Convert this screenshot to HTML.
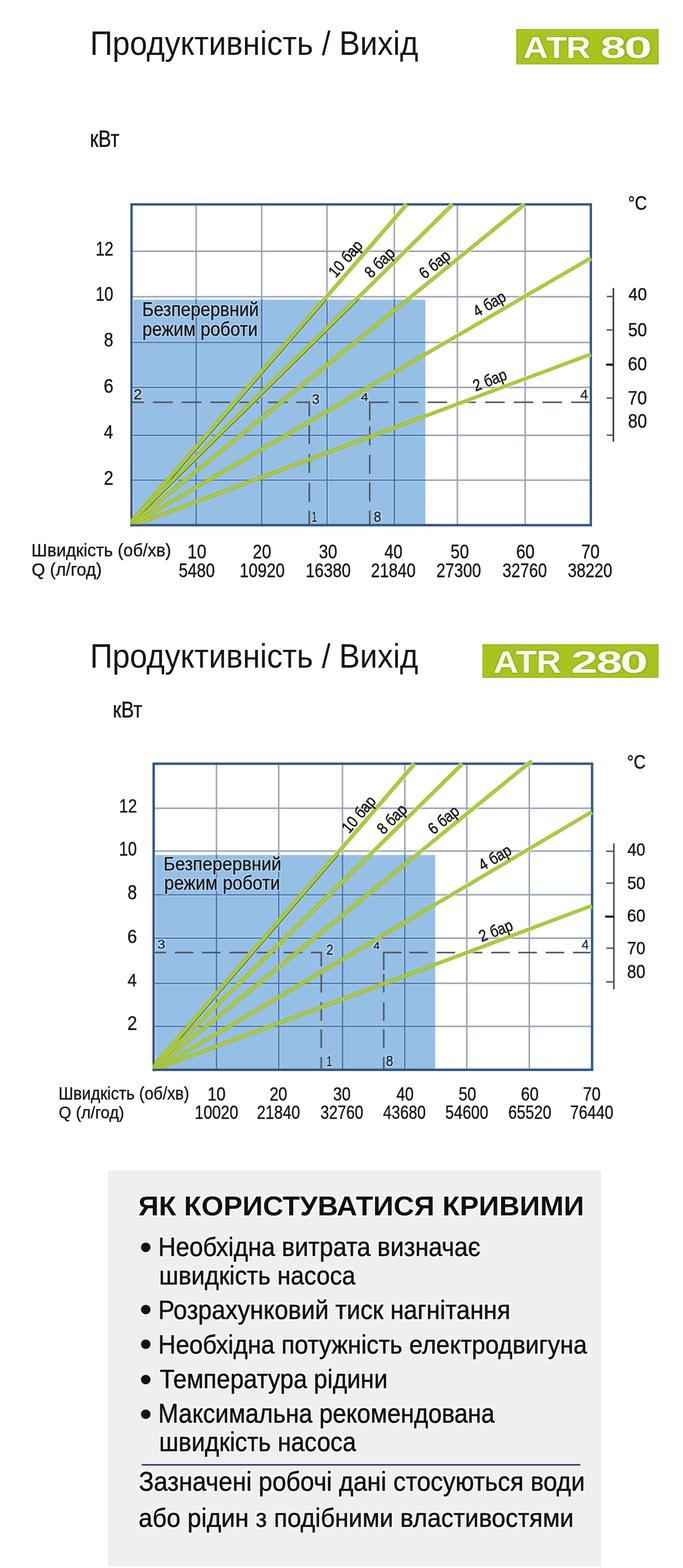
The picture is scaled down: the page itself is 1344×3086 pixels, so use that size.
<!DOCTYPE html>
<html lang="uk"><head><meta charset="utf-8"><title>Продуктивність / Вихід — ATR 80, ATR 280</title>
<style>html,body{margin:0;padding:0;background:#fff;overflow:hidden;}svg{display:block;}text{font-family:"Liberation Sans", Arial, Helvetica, sans-serif;}</style>
</head><body>
<svg width="1344" height="3086" viewBox="0 0 1344 3086">
<defs><filter id="h8aa31a3_2" x="-20%" y="-40%" width="140%" height="180%" color-interpolation-filters="sRGB"><feMorphology in="SourceAlpha" operator="dilate" radius="1.60" result="d"/><feGaussianBlur in="d" stdDeviation="0.6" result="b"/><feFlood flood-color="#8aa31a" flood-opacity="0.55"/><feComposite in2="b" operator="in" result="h"/><feMerge><feMergeNode in="h"/><feMergeNode in="SourceGraphic"/></feMerge></filter><filter id="hb6d6f24_5" x="-20%" y="-40%" width="140%" height="180%" color-interpolation-filters="sRGB"><feMorphology in="SourceAlpha" operator="dilate" radius="2.25" result="d"/><feGaussianBlur in="d" stdDeviation="0.6" result="b"/><feFlood flood-color="#b6d6f2" flood-opacity="0.9"/><feComposite in2="b" operator="in" result="h"/><feMerge><feMergeNode in="h"/><feMergeNode in="SourceGraphic"/></feMerge></filter><filter id="hc4e0f64" x="-20%" y="-40%" width="140%" height="180%" color-interpolation-filters="sRGB"><feMorphology in="SourceAlpha" operator="dilate" radius="2.00" result="d"/><feGaussianBlur in="d" stdDeviation="0.6" result="b"/><feFlood flood-color="#c4e0f6" flood-opacity="0.8"/><feComposite in2="b" operator="in" result="h"/><feMerge><feMergeNode in="h"/><feMergeNode in="SourceGraphic"/></feMerge></filter><filter id="hfbfbfb5" x="-20%" y="-40%" width="140%" height="180%" color-interpolation-filters="sRGB"><feMorphology in="SourceAlpha" operator="dilate" radius="2.50" result="d"/><feGaussianBlur in="d" stdDeviation="0.6" result="b"/><feFlood flood-color="#fbfbfb" flood-opacity="0.85"/><feComposite in2="b" operator="in" result="h"/><feMerge><feMergeNode in="h"/><feMergeNode in="SourceGraphic"/></feMerge></filter></defs>
<rect x="0.00" y="0.00" width="1344.00" height="3086.00" fill="#ffffff"/>
<rect x="262.00" y="589.70" width="575.00" height="443.30" fill="#96bfe5"/>
<line x1="386.00" y1="400.00" x2="386.00" y2="1036.00" stroke="#99a4b5" stroke-width="2.9"/>
<line x1="386.00" y1="589.70" x2="386.00" y2="1036.00" stroke="#b3d3f0" stroke-width="6"/>
<line x1="386.00" y1="589.70" x2="386.00" y2="1036.00" stroke="#4e7cae" stroke-width="2.9"/>
<line x1="515.00" y1="400.00" x2="515.00" y2="1036.00" stroke="#99a4b5" stroke-width="2.9"/>
<line x1="515.00" y1="589.70" x2="515.00" y2="1036.00" stroke="#b3d3f0" stroke-width="6"/>
<line x1="515.00" y1="589.70" x2="515.00" y2="1036.00" stroke="#4e7cae" stroke-width="2.9"/>
<line x1="643.50" y1="400.00" x2="643.50" y2="1036.00" stroke="#99a4b5" stroke-width="2.9"/>
<line x1="643.50" y1="589.70" x2="643.50" y2="1036.00" stroke="#b3d3f0" stroke-width="6"/>
<line x1="643.50" y1="589.70" x2="643.50" y2="1036.00" stroke="#4e7cae" stroke-width="2.9"/>
<line x1="776.00" y1="400.00" x2="776.00" y2="1036.00" stroke="#99a4b5" stroke-width="2.9"/>
<line x1="776.00" y1="589.70" x2="776.00" y2="1036.00" stroke="#b3d3f0" stroke-width="6"/>
<line x1="776.00" y1="589.70" x2="776.00" y2="1036.00" stroke="#4e7cae" stroke-width="2.9"/>
<line x1="900.00" y1="400.00" x2="900.00" y2="1036.00" stroke="#99a4b5" stroke-width="2.9"/>
<line x1="1033.50" y1="400.00" x2="1033.50" y2="1036.00" stroke="#99a4b5" stroke-width="2.9"/>
<line x1="256.50" y1="494.50" x2="1165.00" y2="494.50" stroke="#99a4b5" stroke-width="2.9"/>
<line x1="256.50" y1="584.00" x2="1165.00" y2="584.00" stroke="#99a4b5" stroke-width="2.9"/>
<line x1="256.50" y1="674.00" x2="1165.00" y2="674.00" stroke="#99a4b5" stroke-width="2.9"/>
<line x1="262.00" y1="674.00" x2="837.00" y2="674.00" stroke="#b3d3f0" stroke-width="6"/>
<line x1="262.00" y1="674.00" x2="837.00" y2="674.00" stroke="#4e7cae" stroke-width="2.9"/>
<line x1="256.50" y1="762.50" x2="1165.00" y2="762.50" stroke="#99a4b5" stroke-width="2.9"/>
<line x1="262.00" y1="762.50" x2="837.00" y2="762.50" stroke="#b3d3f0" stroke-width="6"/>
<line x1="262.00" y1="762.50" x2="837.00" y2="762.50" stroke="#4e7cae" stroke-width="2.9"/>
<line x1="256.50" y1="856.70" x2="1165.00" y2="856.70" stroke="#99a4b5" stroke-width="2.9"/>
<line x1="262.00" y1="856.70" x2="837.00" y2="856.70" stroke="#b3d3f0" stroke-width="6"/>
<line x1="262.00" y1="856.70" x2="837.00" y2="856.70" stroke="#4e7cae" stroke-width="2.9"/>
<line x1="256.50" y1="945.00" x2="1165.00" y2="945.00" stroke="#99a4b5" stroke-width="2.9"/>
<line x1="262.00" y1="945.00" x2="837.00" y2="945.00" stroke="#b3d3f0" stroke-width="6"/>
<line x1="262.00" y1="945.00" x2="837.00" y2="945.00" stroke="#4e7cae" stroke-width="2.9"/>
<line x1="386.00" y1="589.70" x2="386.00" y2="1036.00" stroke="#4e7cae" stroke-width="2.9"/>
<line x1="515.00" y1="589.70" x2="515.00" y2="1036.00" stroke="#4e7cae" stroke-width="2.9"/>
<line x1="643.50" y1="589.70" x2="643.50" y2="1036.00" stroke="#4e7cae" stroke-width="2.9"/>
<line x1="776.00" y1="589.70" x2="776.00" y2="1036.00" stroke="#4e7cae" stroke-width="2.9"/>
<line x1="260.50" y1="791.70" x2="283.44" y2="791.70" stroke="#4d5560" stroke-width="3.0"/>
<line x1="300.90" y1="791.70" x2="339.90" y2="791.70" stroke="#4d5560" stroke-width="3.0"/>
<line x1="357.36" y1="791.70" x2="396.36" y2="791.70" stroke="#4d5560" stroke-width="3.0"/>
<line x1="413.82" y1="791.70" x2="452.82" y2="791.70" stroke="#4d5560" stroke-width="3.0"/>
<line x1="470.28" y1="791.70" x2="509.28" y2="791.70" stroke="#4d5560" stroke-width="3.0"/>
<line x1="526.74" y1="791.70" x2="565.74" y2="791.70" stroke="#4d5560" stroke-width="3.0"/>
<line x1="583.20" y1="791.70" x2="609.50" y2="791.70" stroke="#4d5560" stroke-width="3.0"/>
<line x1="608.60" y1="790.20" x2="608.60" y2="819.70" stroke="#4d5560" stroke-width="3.0"/>
<line x1="608.60" y1="836.50" x2="608.60" y2="874.00" stroke="#4d5560" stroke-width="3.0"/>
<line x1="608.60" y1="893.50" x2="608.60" y2="931.00" stroke="#4d5560" stroke-width="3.0"/>
<line x1="608.60" y1="950.40" x2="608.60" y2="987.90" stroke="#4d5560" stroke-width="3.0"/>
<line x1="608.60" y1="1005.00" x2="608.60" y2="1032.50" stroke="#4d5560" stroke-width="3.0"/>
<line x1="727.60" y1="790.20" x2="727.60" y2="827.70" stroke="#4d5560" stroke-width="3.0"/>
<line x1="727.60" y1="839.00" x2="727.60" y2="876.50" stroke="#4d5560" stroke-width="3.0"/>
<line x1="727.60" y1="895.00" x2="727.60" y2="932.50" stroke="#4d5560" stroke-width="3.0"/>
<line x1="727.60" y1="949.60" x2="727.60" y2="987.10" stroke="#4d5560" stroke-width="3.0"/>
<line x1="727.60" y1="1005.00" x2="727.60" y2="1032.50" stroke="#4d5560" stroke-width="3.0"/>
<line x1="726.10" y1="791.70" x2="764.60" y2="791.70" stroke="#4d5560" stroke-width="3.0"/>
<line x1="784.80" y1="791.70" x2="823.30" y2="791.70" stroke="#4d5560" stroke-width="3.0"/>
<line x1="841.37" y1="791.70" x2="879.87" y2="791.70" stroke="#4d5560" stroke-width="3.0"/>
<line x1="897.94" y1="791.70" x2="936.44" y2="791.70" stroke="#4d5560" stroke-width="3.0"/>
<line x1="954.51" y1="791.70" x2="993.01" y2="791.70" stroke="#4d5560" stroke-width="3.0"/>
<line x1="1011.08" y1="791.70" x2="1049.58" y2="791.70" stroke="#4d5560" stroke-width="3.0"/>
<line x1="1067.65" y1="791.70" x2="1106.15" y2="791.70" stroke="#4d5560" stroke-width="3.0"/>
<line x1="1124.22" y1="791.70" x2="1160.00" y2="791.70" stroke="#4d5560" stroke-width="3.0"/>
<rect x="258.80" y="402.30" width="903.90" height="631.40" fill="none" stroke="#355886" stroke-width="4.6"/>
<clipPath id="clip1"><rect x="256.8" y="399.2" width="909.2" height="637.0"/></clipPath>
<clipPath id="clipb1"><rect x="262" y="589.7" width="575" height="446.29999999999995"/></clipPath>
<mask id="maskw1"><rect x="0" y="0" width="1344" height="3086" fill="#fff"/><rect x="256.5" y="589.7" width="580.5" height="450.29999999999995" fill="#000"/></mask>
<g clip-path="url(#clip1)">
<g mask="url(#maskw1)">
<line x1="241.84" y1="1046.00" x2="800.68" y2="402.00" stroke="#eef7bf" stroke-width="10.6" opacity="0.75"/>
<line x1="237.55" y1="1046.00" x2="891.12" y2="402.00" stroke="#eef7bf" stroke-width="10.5" opacity="0.75"/>
<line x1="240.39" y1="1046.00" x2="1032.76" y2="402.00" stroke="#eef7bf" stroke-width="10.4" opacity="0.75"/>
<line x1="240.00" y1="1044.04" x2="1162.50" y2="507.94" stroke="#eef7bf" stroke-width="10.1" opacity="0.75"/>
<line x1="240.00" y1="1042.01" x2="1162.50" y2="697.15" stroke="#eef7bf" stroke-width="10.0" opacity="0.75"/>
</g>
<g clip-path="url(#clipb1)" opacity="0.45">
<line x1="241.84" y1="1046.00" x2="800.68" y2="402.00" stroke="#aecb45" stroke-width="10.5"/>
<line x1="237.55" y1="1046.00" x2="891.12" y2="402.00" stroke="#aecb45" stroke-width="10.4"/>
<line x1="240.39" y1="1046.00" x2="1032.76" y2="402.00" stroke="#aecb45" stroke-width="10.3"/>
<line x1="240.00" y1="1044.04" x2="1162.50" y2="507.94" stroke="#aecb45" stroke-width="10.0"/>
<line x1="240.00" y1="1042.01" x2="1162.50" y2="697.15" stroke="#aecb45" stroke-width="9.9"/>
</g>
<g clip-path="url(#clipb1)">
<line x1="246.14" y1="1049.74" x2="804.99" y2="405.74" stroke="#b3d3f0" stroke-width="1.8"/>
<line x1="244.93" y1="1048.69" x2="803.78" y2="404.69" stroke="#3f6b45" stroke-width="1.7"/>
<line x1="241.51" y1="1050.02" x2="895.08" y2="406.02" stroke="#b3d3f0" stroke-width="1.8"/>
<line x1="240.39" y1="1048.88" x2="893.96" y2="404.88" stroke="#3f6b45" stroke-width="1.7"/>
</g>
<line x1="241.84" y1="1046.00" x2="800.68" y2="402.00" stroke="#98b535" stroke-width="7.0"/>
<line x1="241.84" y1="1046.00" x2="800.68" y2="402.00" stroke="#aecb45" stroke-width="4.6"/>
<line x1="237.55" y1="1046.00" x2="891.12" y2="402.00" stroke="#98b535" stroke-width="6.9"/>
<line x1="237.55" y1="1046.00" x2="891.12" y2="402.00" stroke="#aecb45" stroke-width="4.5"/>
<line x1="240.39" y1="1046.00" x2="1032.76" y2="402.00" stroke="#98b535" stroke-width="6.8"/>
<line x1="240.39" y1="1046.00" x2="1032.76" y2="402.00" stroke="#aecb45" stroke-width="4.4"/>
<line x1="240.00" y1="1044.04" x2="1162.50" y2="507.94" stroke="#98b535" stroke-width="6.5"/>
<line x1="240.00" y1="1044.04" x2="1162.50" y2="507.94" stroke="#aecb45" stroke-width="4.1"/>
<line x1="240.00" y1="1042.01" x2="1162.50" y2="697.15" stroke="#98b535" stroke-width="6.4"/>
<line x1="240.00" y1="1042.01" x2="1162.50" y2="697.15" stroke="#aecb45" stroke-width="4.0"/>
</g>
<line x1="256.50" y1="1033.70" x2="1160.40" y2="1033.70" stroke="#355886" stroke-width="4.6"/>
<rect x="306.00" y="1682.70" width="550.50" height="421.30" fill="#96bfe5"/>
<line x1="426.00" y1="1500.70" x2="426.00" y2="2108.00" stroke="#99a4b5" stroke-width="2.9"/>
<line x1="426.00" y1="1682.70" x2="426.00" y2="2108.00" stroke="#b3d3f0" stroke-width="6"/>
<line x1="426.00" y1="1682.70" x2="426.00" y2="2108.00" stroke="#4e7cae" stroke-width="2.9"/>
<line x1="548.50" y1="1500.70" x2="548.50" y2="2108.00" stroke="#99a4b5" stroke-width="2.9"/>
<line x1="548.50" y1="1682.70" x2="548.50" y2="2108.00" stroke="#b3d3f0" stroke-width="6"/>
<line x1="548.50" y1="1682.70" x2="548.50" y2="2108.00" stroke="#4e7cae" stroke-width="2.9"/>
<line x1="674.00" y1="1500.70" x2="674.00" y2="2108.00" stroke="#99a4b5" stroke-width="2.9"/>
<line x1="674.00" y1="1682.70" x2="674.00" y2="2108.00" stroke="#b3d3f0" stroke-width="6"/>
<line x1="674.00" y1="1682.70" x2="674.00" y2="2108.00" stroke="#4e7cae" stroke-width="2.9"/>
<line x1="796.60" y1="1500.70" x2="796.60" y2="2108.00" stroke="#99a4b5" stroke-width="2.9"/>
<line x1="796.60" y1="1682.70" x2="796.60" y2="2108.00" stroke="#b3d3f0" stroke-width="6"/>
<line x1="796.60" y1="1682.70" x2="796.60" y2="2108.00" stroke="#4e7cae" stroke-width="2.9"/>
<line x1="918.50" y1="1500.70" x2="918.50" y2="2108.00" stroke="#99a4b5" stroke-width="2.9"/>
<line x1="1041.50" y1="1500.70" x2="1041.50" y2="2108.00" stroke="#99a4b5" stroke-width="2.9"/>
<line x1="300.00" y1="1590.70" x2="1167.50" y2="1590.70" stroke="#99a4b5" stroke-width="2.9"/>
<line x1="300.00" y1="1675.00" x2="1167.50" y2="1675.00" stroke="#99a4b5" stroke-width="2.9"/>
<line x1="300.00" y1="1761.00" x2="1167.50" y2="1761.00" stroke="#99a4b5" stroke-width="2.9"/>
<line x1="306.00" y1="1761.00" x2="856.50" y2="1761.00" stroke="#b3d3f0" stroke-width="6"/>
<line x1="306.00" y1="1761.00" x2="856.50" y2="1761.00" stroke="#4e7cae" stroke-width="2.9"/>
<line x1="300.00" y1="1846.50" x2="1167.50" y2="1846.50" stroke="#99a4b5" stroke-width="2.9"/>
<line x1="306.00" y1="1846.50" x2="856.50" y2="1846.50" stroke="#b3d3f0" stroke-width="6"/>
<line x1="306.00" y1="1846.50" x2="856.50" y2="1846.50" stroke="#4e7cae" stroke-width="2.9"/>
<line x1="300.00" y1="1935.20" x2="1167.50" y2="1935.20" stroke="#99a4b5" stroke-width="2.9"/>
<line x1="306.00" y1="1935.20" x2="856.50" y2="1935.20" stroke="#b3d3f0" stroke-width="6"/>
<line x1="306.00" y1="1935.20" x2="856.50" y2="1935.20" stroke="#4e7cae" stroke-width="2.9"/>
<line x1="300.00" y1="2020.00" x2="1167.50" y2="2020.00" stroke="#99a4b5" stroke-width="2.9"/>
<line x1="306.00" y1="2020.00" x2="856.50" y2="2020.00" stroke="#b3d3f0" stroke-width="6"/>
<line x1="306.00" y1="2020.00" x2="856.50" y2="2020.00" stroke="#4e7cae" stroke-width="2.9"/>
<line x1="426.00" y1="1682.70" x2="426.00" y2="2108.00" stroke="#4e7cae" stroke-width="2.9"/>
<line x1="548.50" y1="1682.70" x2="548.50" y2="2108.00" stroke="#4e7cae" stroke-width="2.9"/>
<line x1="674.00" y1="1682.70" x2="674.00" y2="2108.00" stroke="#4e7cae" stroke-width="2.9"/>
<line x1="796.60" y1="1682.70" x2="796.60" y2="2108.00" stroke="#4e7cae" stroke-width="2.9"/>
<line x1="305.00" y1="1874.70" x2="326.90" y2="1874.70" stroke="#4d5560" stroke-width="3.0"/>
<line x1="344.00" y1="1874.70" x2="380.50" y2="1874.70" stroke="#4d5560" stroke-width="3.0"/>
<line x1="397.60" y1="1874.70" x2="434.10" y2="1874.70" stroke="#4d5560" stroke-width="3.0"/>
<line x1="451.20" y1="1874.70" x2="487.70" y2="1874.70" stroke="#4d5560" stroke-width="3.0"/>
<line x1="504.80" y1="1874.70" x2="541.30" y2="1874.70" stroke="#4d5560" stroke-width="3.0"/>
<line x1="558.40" y1="1874.70" x2="594.90" y2="1874.70" stroke="#4d5560" stroke-width="3.0"/>
<line x1="612.00" y1="1874.70" x2="633.60" y2="1874.70" stroke="#4d5560" stroke-width="3.0"/>
<line x1="632.10" y1="1873.20" x2="632.10" y2="1902.00" stroke="#4d5560" stroke-width="3.0"/>
<line x1="632.10" y1="1917.00" x2="632.10" y2="1953.50" stroke="#4d5560" stroke-width="3.0"/>
<line x1="632.10" y1="1972.50" x2="632.10" y2="2009.00" stroke="#4d5560" stroke-width="3.0"/>
<line x1="632.10" y1="2026.00" x2="632.10" y2="2062.50" stroke="#4d5560" stroke-width="3.0"/>
<line x1="632.10" y1="2080.30" x2="632.10" y2="2103.50" stroke="#4d5560" stroke-width="3.0"/>
<line x1="755.10" y1="1873.20" x2="755.10" y2="1909.70" stroke="#4d5560" stroke-width="3.0"/>
<line x1="755.10" y1="1917.00" x2="755.10" y2="1953.50" stroke="#4d5560" stroke-width="3.0"/>
<line x1="755.10" y1="1972.50" x2="755.10" y2="2009.00" stroke="#4d5560" stroke-width="3.0"/>
<line x1="755.10" y1="2026.00" x2="755.10" y2="2062.50" stroke="#4d5560" stroke-width="3.0"/>
<line x1="755.10" y1="2080.30" x2="755.10" y2="2103.50" stroke="#4d5560" stroke-width="3.0"/>
<line x1="753.60" y1="1874.70" x2="790.10" y2="1874.70" stroke="#4d5560" stroke-width="3.0"/>
<line x1="805.40" y1="1874.70" x2="841.90" y2="1874.70" stroke="#4d5560" stroke-width="3.0"/>
<line x1="859.07" y1="1874.70" x2="895.57" y2="1874.70" stroke="#4d5560" stroke-width="3.0"/>
<line x1="912.74" y1="1874.70" x2="949.24" y2="1874.70" stroke="#4d5560" stroke-width="3.0"/>
<line x1="966.41" y1="1874.70" x2="1002.91" y2="1874.70" stroke="#4d5560" stroke-width="3.0"/>
<line x1="1020.08" y1="1874.70" x2="1056.58" y2="1874.70" stroke="#4d5560" stroke-width="3.0"/>
<line x1="1073.75" y1="1874.70" x2="1110.25" y2="1874.70" stroke="#4d5560" stroke-width="3.0"/>
<line x1="1127.42" y1="1874.70" x2="1162.00" y2="1874.70" stroke="#4d5560" stroke-width="3.0"/>
<rect x="302.40" y="1503.10" width="862.70" height="602.50" fill="none" stroke="#355886" stroke-width="4.8"/>
<clipPath id="clip2"><rect x="300.3" y="1494" width="867.7" height="614.1999999999998"/></clipPath>
<clipPath id="clipb2"><rect x="306" y="1682.7" width="550.5" height="425.29999999999995"/></clipPath>
<mask id="maskw2"><rect x="0" y="0" width="1344" height="3086" fill="#fff"/><rect x="300" y="1682.7" width="556.5" height="429.29999999999995" fill="#000"/></mask>
<g clip-path="url(#clip2)">
<g mask="url(#maskw2)">
<line x1="285.64" y1="2118.00" x2="816.05" y2="1503.00" stroke="#eef7bf" stroke-width="10.6" opacity="0.75"/>
<line x1="284.69" y1="2118.00" x2="910.19" y2="1503.00" stroke="#eef7bf" stroke-width="10.5" opacity="0.75"/>
<line x1="285.27" y1="2118.00" x2="1046.44" y2="1497.50" stroke="#eef7bf" stroke-width="10.4" opacity="0.75"/>
<line x1="285.00" y1="2118.12" x2="1164.50" y2="1597.73" stroke="#eef7bf" stroke-width="10.1" opacity="0.75"/>
<line x1="285.00" y1="2112.26" x2="1164.50" y2="1782.62" stroke="#eef7bf" stroke-width="10.0" opacity="0.75"/>
</g>
<g clip-path="url(#clipb2)" opacity="0.45">
<line x1="285.64" y1="2118.00" x2="816.05" y2="1503.00" stroke="#aecb45" stroke-width="10.5"/>
<line x1="284.69" y1="2118.00" x2="910.19" y2="1503.00" stroke="#aecb45" stroke-width="10.4"/>
<line x1="285.27" y1="2118.00" x2="1046.44" y2="1497.50" stroke="#aecb45" stroke-width="10.3"/>
<line x1="285.00" y1="2118.12" x2="1164.50" y2="1597.73" stroke="#aecb45" stroke-width="10.0"/>
<line x1="285.00" y1="2112.26" x2="1164.50" y2="1782.62" stroke="#aecb45" stroke-width="9.9"/>
</g>
<g clip-path="url(#clipb2)">
<line x1="289.96" y1="2121.72" x2="820.37" y2="1506.72" stroke="#b3d3f0" stroke-width="1.8"/>
<line x1="288.74" y1="2120.68" x2="819.16" y2="1505.68" stroke="#3f6b45" stroke-width="1.7"/>
</g>
<line x1="285.64" y1="2118.00" x2="816.05" y2="1503.00" stroke="#98b535" stroke-width="7.0"/>
<line x1="285.64" y1="2118.00" x2="816.05" y2="1503.00" stroke="#aecb45" stroke-width="4.6"/>
<line x1="284.69" y1="2118.00" x2="910.19" y2="1503.00" stroke="#98b535" stroke-width="6.9"/>
<line x1="284.69" y1="2118.00" x2="910.19" y2="1503.00" stroke="#aecb45" stroke-width="4.5"/>
<line x1="285.27" y1="2118.00" x2="1046.44" y2="1497.50" stroke="#98b535" stroke-width="6.8"/>
<line x1="285.27" y1="2118.00" x2="1046.44" y2="1497.50" stroke="#aecb45" stroke-width="4.4"/>
<line x1="285.00" y1="2118.12" x2="1164.50" y2="1597.73" stroke="#98b535" stroke-width="6.5"/>
<line x1="285.00" y1="2118.12" x2="1164.50" y2="1597.73" stroke="#aecb45" stroke-width="4.1"/>
<line x1="285.00" y1="2112.26" x2="1164.50" y2="1782.62" stroke="#98b535" stroke-width="6.4"/>
<line x1="285.00" y1="2112.26" x2="1164.50" y2="1782.62" stroke="#aecb45" stroke-width="4.0"/>
</g>
<line x1="300.00" y1="2105.60" x2="1162.70" y2="2105.60" stroke="#355886" stroke-width="4.8"/>
<text transform="translate(177.18 107.90) scale(0.9261 1)" font-size="66.38" fill="#161616">Продуктивність / Вихід</text>
<rect x="1016.00" y="57.50" width="280.00" height="69.00" fill="#a8c41f"/>
<rect x="1016.75" y="58.25" width="278.50" height="67.50" fill="none" stroke="#93ad1c" stroke-width="1.5"/>
<text transform="translate(1029.50 113.70) scale(1.1398 1)" font-size="59.71" font-weight="bold" fill="#fafdf0" filter="url(#h8aa31a3_2)">A</text>
<text transform="translate(1074.83 113.70) scale(1.1156 1)" font-size="59.71" font-weight="bold" fill="#fafdf0" filter="url(#h8aa31a3_2)">T</text>
<text transform="translate(1114.29 113.70) scale(1.1104 1)" font-size="59.71" font-weight="bold" fill="#fafdf0" filter="url(#h8aa31a3_2)">R</text>
<text transform="translate(1181.38 113.70) scale(1.5377 1)" font-size="58.86" font-weight="bold" fill="#fafdf0" filter="url(#h8aa31a3_2)">8</text>
<text transform="translate(1228.26 113.70) scale(1.6740 1)" font-size="58.86" font-weight="bold" fill="#fafdf0" filter="url(#h8aa31a3_2)">0</text>
<text transform="translate(177.04 289.20) scale(0.8147 1)" font-size="46.38" fill="#161616" stroke="#161616" stroke-width="0.60" vector-effect="non-scaling-stroke">кВт</text>
<text transform="translate(1236.12 412.50) scale(0.8513 1)" font-size="38.70" fill="#161616" stroke="#161616" stroke-width="0.60" vector-effect="non-scaling-stroke">°C</text>
<text transform="translate(188.16 502.88) scale(0.8068 1)" font-size="39.07" fill="#161616" stroke="#161616" stroke-width="0.45" vector-effect="non-scaling-stroke">12</text>
<text transform="translate(188.18 591.57) scale(0.8136 1)" font-size="38.36" fill="#161616" stroke="#161616" stroke-width="0.45" vector-effect="non-scaling-stroke">10</text>
<text transform="translate(204.54 681.98) scale(0.8626 1)" font-size="38.36" fill="#161616" stroke="#161616" stroke-width="0.45" vector-effect="non-scaling-stroke">8</text>
<text transform="translate(204.00 772.67) scale(0.8983 1)" font-size="38.36" fill="#161616" stroke="#161616" stroke-width="0.45" vector-effect="non-scaling-stroke">6</text>
<text transform="translate(204.20 863.38) scale(0.9033 1)" font-size="36.64" fill="#161616" stroke="#161616" stroke-width="0.45" vector-effect="non-scaling-stroke">4</text>
<text transform="translate(204.32 954.07) scale(0.8910 1)" font-size="38.36" fill="#161616" stroke="#161616" stroke-width="0.45" vector-effect="non-scaling-stroke">2</text>
<line x1="1207.00" y1="566.80" x2="1207.00" y2="869.60" stroke="#333" stroke-width="3"/>
<line x1="1194.00" y1="583.50" x2="1207.00" y2="583.50" stroke="#555" stroke-width="2.8"/>
<line x1="1194.00" y1="649.40" x2="1207.00" y2="649.40" stroke="#555" stroke-width="2.8"/>
<line x1="1192.50" y1="717.70" x2="1207.00" y2="717.70" stroke="#1c1c1c" stroke-width="4.2"/>
<line x1="1194.00" y1="783.50" x2="1207.00" y2="783.50" stroke="#555" stroke-width="2.8"/>
<line x1="1194.00" y1="856.50" x2="1207.00" y2="856.50" stroke="#555" stroke-width="2.8"/>
<text transform="translate(1236.40 591.38) scale(0.9202 1)" font-size="35.93" fill="#161616" stroke="#161616" stroke-width="0.45" vector-effect="non-scaling-stroke">40</text>
<text transform="translate(1235.88 661.57) scale(0.9154 1)" font-size="36.64" fill="#161616" stroke="#161616" stroke-width="0.45" vector-effect="non-scaling-stroke">50</text>
<text transform="translate(1235.53 728.67) scale(0.9033 1)" font-size="37.50" fill="#161616" stroke="#161616" stroke-width="0.45" vector-effect="non-scaling-stroke">60</text>
<text transform="translate(1235.53 796.38) scale(0.9033 1)" font-size="37.50" fill="#161616" stroke="#161616" stroke-width="0.45" vector-effect="non-scaling-stroke">70</text>
<text transform="translate(1235.71 842.27) scale(0.8596 1)" font-size="39.21" fill="#161616" stroke="#161616" stroke-width="0.45" vector-effect="non-scaling-stroke">80</text>
<text transform="translate(279.75 621.57) scale(0.9095 1)" font-size="38.19" fill="#161616" stroke="#161616" stroke-width="0.45" vector-effect="non-scaling-stroke" filter="url(#hb6d6f24_5)">Безперервний</text>
<text transform="translate(279.96 660.57) scale(0.9064 1)" font-size="38.40" fill="#161616" stroke="#161616" stroke-width="0.45" vector-effect="non-scaling-stroke" filter="url(#hb6d6f24_5)">режим роботи</text>
<text transform="translate(262.63 786.45) scale(1.0015 1)" font-size="30.29" fill="#262a33" stroke="#262a33" stroke-width="0.50" vector-effect="non-scaling-stroke" filter="url(#hc4e0f64)">2</text>
<text transform="translate(613.75 794.95) scale(1.0007 1)" font-size="27.43" fill="#262a33" stroke="#262a33" stroke-width="0.50" vector-effect="non-scaling-stroke" filter="url(#hc4e0f64)">3</text>
<text transform="translate(709.88 789.15) scale(1.1949 1)" font-size="22.43" fill="#262a33" stroke="#262a33" stroke-width="0.50" vector-effect="non-scaling-stroke" filter="url(#hc4e0f64)">4</text>
<text transform="translate(1141.97 786.45) scale(0.9836 1)" font-size="27.86" fill="#262a33" stroke="#262a33" stroke-width="0.50" vector-effect="non-scaling-stroke">4</text>
<text transform="translate(613.30 1027.15) scale(0.6404 1)" font-size="30.14" fill="#262a33" stroke="#262a33" stroke-width="0.50" vector-effect="non-scaling-stroke" filter="url(#hc4e0f64)">1</text>
<text transform="translate(735.46 1027.15) scale(0.8753 1)" font-size="30.14" fill="#262a33" stroke="#262a33" stroke-width="0.50" vector-effect="non-scaling-stroke" filter="url(#hc4e0f64)">8</text>
<text transform="translate(681.90 510.30) rotate(-49.20) translate(-42.45 8.40) scale(0.8600 1)" font-size="32.00" fill="#161616" stroke="#161616" stroke-width="0.60" vector-effect="non-scaling-stroke">10 бар</text>
<text transform="translate(748.80 518.50) rotate(-44.80) translate(-34.40 8.40) scale(0.8600 1)" font-size="32.00" fill="#161616" stroke="#161616" stroke-width="0.60" vector-effect="non-scaling-stroke">8 бар</text>
<text transform="translate(856.90 522.10) rotate(-39.10) translate(-34.47 8.40) scale(0.8600 1)" font-size="32.00" fill="#161616" stroke="#161616" stroke-width="0.60" vector-effect="non-scaling-stroke">6 бар</text>
<text transform="translate(964.00 600.40) rotate(-30.00) translate(-34.12 8.40) scale(0.8600 1)" font-size="32.00" fill="#161616" stroke="#161616" stroke-width="0.60" vector-effect="non-scaling-stroke">4 бар</text>
<text transform="translate(964.80 750.30) rotate(-21.00) translate(-34.47 8.40) scale(0.8600 1)" font-size="32.00" fill="#161616" stroke="#161616" stroke-width="0.60" vector-effect="non-scaling-stroke">2 бар</text>
<text transform="translate(61.81 1095.48) scale(0.9529 1)" font-size="35.58" fill="#161616" stroke="#161616" stroke-width="0.45" vector-effect="non-scaling-stroke">Швидкість (об/хв)</text>
<text transform="translate(62.29 1133.28) scale(0.9596 1)" font-size="35.58" fill="#161616" stroke="#161616" stroke-width="0.45" vector-effect="non-scaling-stroke">Q (л/год)</text>
<text transform="translate(368.75 1099.08) scale(0.8797 1)" font-size="38.21" fill="#161616" stroke="#161616" stroke-width="0.45" vector-effect="non-scaling-stroke">10</text>
<text transform="translate(497.24 1099.08) scale(0.8582 1)" font-size="38.21" fill="#161616" stroke="#161616" stroke-width="0.45" vector-effect="non-scaling-stroke">20</text>
<text transform="translate(627.38 1099.08) scale(0.8498 1)" font-size="38.21" fill="#161616" stroke="#161616" stroke-width="0.45" vector-effect="non-scaling-stroke">30</text>
<text transform="translate(756.47 1099.08) scale(0.8376 1)" font-size="38.21" fill="#161616" stroke="#161616" stroke-width="0.45" vector-effect="non-scaling-stroke">40</text>
<text transform="translate(886.58 1099.08) scale(0.8498 1)" font-size="38.21" fill="#161616" stroke="#161616" stroke-width="0.45" vector-effect="non-scaling-stroke">50</text>
<text transform="translate(1015.64 1099.08) scale(0.8582 1)" font-size="38.21" fill="#161616" stroke="#161616" stroke-width="0.45" vector-effect="non-scaling-stroke">60</text>
<text transform="translate(1143.64 1099.08) scale(0.8582 1)" font-size="38.21" fill="#161616" stroke="#161616" stroke-width="0.45" vector-effect="non-scaling-stroke">70</text>
<text transform="translate(351.75 1136.48) scale(0.8394 1)" font-size="38.07" fill="#161616" stroke="#161616" stroke-width="0.45" vector-effect="non-scaling-stroke">5480</text>
<text transform="translate(471.58 1136.48) scale(0.8383 1)" font-size="38.07" fill="#161616" stroke="#161616" stroke-width="0.45" vector-effect="non-scaling-stroke">10920</text>
<text transform="translate(601.48 1136.48) scale(0.8383 1)" font-size="38.07" fill="#161616" stroke="#161616" stroke-width="0.45" vector-effect="non-scaling-stroke">16380</text>
<text transform="translate(729.89 1136.48) scale(0.8305 1)" font-size="38.07" fill="#161616" stroke="#161616" stroke-width="0.45" vector-effect="non-scaling-stroke">21840</text>
<text transform="translate(858.69 1136.48) scale(0.8305 1)" font-size="38.07" fill="#161616" stroke="#161616" stroke-width="0.45" vector-effect="non-scaling-stroke">27300</text>
<text transform="translate(988.72 1136.48) scale(0.8274 1)" font-size="38.07" fill="#161616" stroke="#161616" stroke-width="0.45" vector-effect="non-scaling-stroke">32760</text>
<text transform="translate(1117.21 1136.48) scale(0.8274 1)" font-size="38.07" fill="#161616" stroke="#161616" stroke-width="0.45" vector-effect="non-scaling-stroke">38220</text>
<text transform="translate(177.18 1313.80) scale(0.9220 1)" font-size="66.67" fill="#161616">Продуктивність / Вихід</text>
<rect x="949.60" y="1268.00" width="346.00" height="66.00" fill="#a8c41f"/>
<rect x="950.35" y="1268.75" width="344.50" height="64.50" fill="none" stroke="#93ad1c" stroke-width="1.5"/>
<text transform="translate(971.09 1324.20) scale(1.0996 1)" font-size="62.03" font-weight="bold" fill="#fafdf0" filter="url(#h8aa31a3_2)">A</text>
<text transform="translate(1014.92 1324.20) scale(1.0903 1)" font-size="62.03" font-weight="bold" fill="#fafdf0" filter="url(#h8aa31a3_2)">T</text>
<text transform="translate(1055.42 1324.20) scale(1.0866 1)" font-size="62.03" font-weight="bold" fill="#fafdf0" filter="url(#h8aa31a3_2)">R</text>
<text transform="translate(1123.17 1324.20) scale(1.5571 1)" font-size="61.14" font-weight="bold" fill="#fafdf0" filter="url(#h8aa31a3_2)">2</text>
<text transform="translate(1173.43 1324.20) scale(1.5100 1)" font-size="61.14" font-weight="bold" fill="#fafdf0" filter="url(#h8aa31a3_2)">8</text>
<text transform="translate(1220.38 1324.20) scale(1.6045 1)" font-size="61.14" font-weight="bold" fill="#fafdf0" filter="url(#h8aa31a3_2)">0</text>
<text transform="translate(221.94 1411.60) scale(0.8383 1)" font-size="45.07" fill="#161616" stroke="#161616" stroke-width="0.60" vector-effect="non-scaling-stroke">кВт</text>
<text transform="translate(1233.95 1513.10) scale(0.8232 1)" font-size="39.42" fill="#161616" stroke="#161616" stroke-width="0.60" vector-effect="non-scaling-stroke">°C</text>
<text transform="translate(234.34 1599.08) scale(0.8652 1)" font-size="36.79" fill="#161616" stroke="#161616" stroke-width="0.45" vector-effect="non-scaling-stroke">12</text>
<text transform="translate(234.36 1684.28) scale(0.8245 1)" font-size="38.21" fill="#161616" stroke="#161616" stroke-width="0.45" vector-effect="non-scaling-stroke">10</text>
<text transform="translate(250.93 1770.08) scale(0.8369 1)" font-size="39.79" fill="#161616" stroke="#161616" stroke-width="0.45" vector-effect="non-scaling-stroke">8</text>
<text transform="translate(250.50 1855.98) scale(0.9295 1)" font-size="37.07" fill="#161616" stroke="#161616" stroke-width="0.45" vector-effect="non-scaling-stroke">6</text>
<text transform="translate(251.01 1941.38) scale(0.9192 1)" font-size="35.36" fill="#161616" stroke="#161616" stroke-width="0.45" vector-effect="non-scaling-stroke">4</text>
<text transform="translate(250.48 2027.38) scale(0.8981 1)" font-size="38.79" fill="#161616" stroke="#161616" stroke-width="0.45" vector-effect="non-scaling-stroke">2</text>
<line x1="1208.00" y1="1659.90" x2="1208.00" y2="1947.50" stroke="#333" stroke-width="2.6"/>
<line x1="1193.00" y1="1675.40" x2="1208.00" y2="1675.40" stroke="#555" stroke-width="2.8"/>
<line x1="1193.00" y1="1738.10" x2="1208.00" y2="1738.10" stroke="#555" stroke-width="2.8"/>
<line x1="1190.60" y1="1804.00" x2="1208.00" y2="1804.00" stroke="#1c1c1c" stroke-width="4.2"/>
<line x1="1193.00" y1="1866.10" x2="1208.00" y2="1866.10" stroke="#555" stroke-width="2.8"/>
<line x1="1193.00" y1="1932.50" x2="1208.00" y2="1932.50" stroke="#555" stroke-width="2.8"/>
<text transform="translate(1234.73 1683.88) scale(0.8838 1)" font-size="35.79" fill="#161616" stroke="#161616" stroke-width="0.45" vector-effect="non-scaling-stroke">40</text>
<text transform="translate(1234.24 1750.38) scale(0.9187 1)" font-size="34.93" fill="#161616" stroke="#161616" stroke-width="0.45" vector-effect="non-scaling-stroke">50</text>
<text transform="translate(1233.90 1813.68) scale(0.9054 1)" font-size="35.79" fill="#161616" stroke="#161616" stroke-width="0.45" vector-effect="non-scaling-stroke">60</text>
<text transform="translate(1233.90 1877.68) scale(0.9054 1)" font-size="35.79" fill="#161616" stroke="#161616" stroke-width="0.45" vector-effect="non-scaling-stroke">70</text>
<text transform="translate(1234.07 1925.48) scale(0.8800 1)" font-size="36.64" fill="#161616" stroke="#161616" stroke-width="0.45" vector-effect="non-scaling-stroke">80</text>
<text transform="translate(321.72 1712.68) scale(0.9657 1)" font-size="36.30" fill="#161616" stroke="#161616" stroke-width="0.45" vector-effect="non-scaling-stroke" filter="url(#hb6d6f24_5)">Безперервний</text>
<text transform="translate(322.95 1750.58) scale(0.9108 1)" font-size="38.40" fill="#161616" stroke="#161616" stroke-width="0.45" vector-effect="non-scaling-stroke" filter="url(#hb6d6f24_5)">режим роботи</text>
<text transform="translate(309.51 1866.85) scale(1.1809 1)" font-size="24.14" fill="#262a33" stroke="#262a33" stroke-width="0.50" vector-effect="non-scaling-stroke" filter="url(#hc4e0f64)">3</text>
<text transform="translate(641.89 1879.35) scale(0.8465 1)" font-size="29.86" fill="#262a33" stroke="#262a33" stroke-width="0.50" vector-effect="non-scaling-stroke" filter="url(#hc4e0f64)">2</text>
<text transform="translate(734.77 1867.75) scale(1.1518 1)" font-size="20.14" fill="#262a33" stroke="#262a33" stroke-width="0.50" vector-effect="non-scaling-stroke" filter="url(#hc4e0f64)">4</text>
<text transform="translate(1144.52 1868.35) scale(0.9823 1)" font-size="25.86" fill="#262a33" stroke="#262a33" stroke-width="0.50" vector-effect="non-scaling-stroke">4</text>
<text transform="translate(642.48 2097.95) scale(0.6837 1)" font-size="28.57" fill="#262a33" stroke="#262a33" stroke-width="0.50" vector-effect="non-scaling-stroke" filter="url(#hc4e0f64)">1</text>
<text transform="translate(759.50 2097.95) scale(0.8936 1)" font-size="28.57" fill="#262a33" stroke="#262a33" stroke-width="0.50" vector-effect="non-scaling-stroke" filter="url(#hc4e0f64)">8</text>
<text transform="translate(708.10 1603.90) rotate(-49.50) translate(-42.45 8.40) scale(0.8600 1)" font-size="32.00" fill="#161616" stroke="#161616" stroke-width="0.60" vector-effect="non-scaling-stroke">10 бар</text>
<text transform="translate(773.00 1613.70) rotate(-44.60) translate(-34.40 8.40) scale(0.8600 1)" font-size="32.00" fill="#161616" stroke="#161616" stroke-width="0.60" vector-effect="non-scaling-stroke">8 бар</text>
<text transform="translate(874.40 1615.50) rotate(-39.10) translate(-34.47 8.40) scale(0.8600 1)" font-size="32.00" fill="#161616" stroke="#161616" stroke-width="0.60" vector-effect="non-scaling-stroke">6 бар</text>
<text transform="translate(974.80 1690.00) rotate(-30.30) translate(-34.12 8.40) scale(0.8600 1)" font-size="32.00" fill="#161616" stroke="#161616" stroke-width="0.60" vector-effect="non-scaling-stroke">4 бар</text>
<text transform="translate(976.60 1833.90) rotate(-21.00) translate(-34.47 8.40) scale(0.8600 1)" font-size="32.00" fill="#161616" stroke="#161616" stroke-width="0.60" vector-effect="non-scaling-stroke">2 бар</text>
<text transform="translate(115.19 2163.97) scale(0.9208 1)" font-size="34.42" fill="#161616" stroke="#161616" stroke-width="0.45" vector-effect="non-scaling-stroke">Швидкість (об/хв)</text>
<text transform="translate(115.49 2201.08) scale(0.9842 1)" font-size="32.39" fill="#161616" stroke="#161616" stroke-width="0.45" vector-effect="non-scaling-stroke">Q (л/год)</text>
<text transform="translate(408.16 2166.18) scale(0.8689 1)" font-size="37.07" fill="#161616" stroke="#161616" stroke-width="0.45" vector-effect="non-scaling-stroke">10</text>
<text transform="translate(530.40 2166.18) scale(0.8476 1)" font-size="37.07" fill="#161616" stroke="#161616" stroke-width="0.45" vector-effect="non-scaling-stroke">20</text>
<text transform="translate(655.53 2166.18) scale(0.8394 1)" font-size="37.07" fill="#161616" stroke="#161616" stroke-width="0.45" vector-effect="non-scaling-stroke">30</text>
<text transform="translate(779.91 2166.18) scale(0.8273 1)" font-size="37.07" fill="#161616" stroke="#161616" stroke-width="0.45" vector-effect="non-scaling-stroke">40</text>
<text transform="translate(902.43 2166.18) scale(0.8394 1)" font-size="37.07" fill="#161616" stroke="#161616" stroke-width="0.45" vector-effect="non-scaling-stroke">50</text>
<text transform="translate(1025.00 2166.18) scale(0.8476 1)" font-size="37.07" fill="#161616" stroke="#161616" stroke-width="0.45" vector-effect="non-scaling-stroke">60</text>
<text transform="translate(1147.00 2166.18) scale(0.8476 1)" font-size="37.07" fill="#161616" stroke="#161616" stroke-width="0.45" vector-effect="non-scaling-stroke">70</text>
<text transform="translate(383.27 2201.78) scale(0.8305 1)" font-size="37.07" fill="#161616" stroke="#161616" stroke-width="0.45" vector-effect="non-scaling-stroke">10020</text>
<text transform="translate(505.55 2201.78) scale(0.8228 1)" font-size="37.07" fill="#161616" stroke="#161616" stroke-width="0.45" vector-effect="non-scaling-stroke">21840</text>
<text transform="translate(630.56 2201.78) scale(0.8197 1)" font-size="37.07" fill="#161616" stroke="#161616" stroke-width="0.45" vector-effect="non-scaling-stroke">32760</text>
<text transform="translate(753.82 2201.78) scale(0.8152 1)" font-size="37.07" fill="#161616" stroke="#161616" stroke-width="0.45" vector-effect="non-scaling-stroke">43680</text>
<text transform="translate(876.36 2201.78) scale(0.8197 1)" font-size="37.07" fill="#161616" stroke="#161616" stroke-width="0.45" vector-effect="non-scaling-stroke">54600</text>
<text transform="translate(1000.15 2201.78) scale(0.8228 1)" font-size="37.07" fill="#161616" stroke="#161616" stroke-width="0.45" vector-effect="non-scaling-stroke">65520</text>
<text transform="translate(1122.05 2201.78) scale(0.8228 1)" font-size="37.07" fill="#161616" stroke="#161616" stroke-width="0.45" vector-effect="non-scaling-stroke">76440</text>
<rect x="213.00" y="2304.00" width="970.00" height="779.00" fill="#efefef"/>
<text transform="translate(272.28 2392.20) scale(1.0370 1)" font-size="53.91" font-weight="bold" fill="#111111" filter="url(#hfbfbfb5)">ЯК КОРИСТУВАТИСЯ КРИВИМИ</text>
<circle cx="286.8" cy="2454.8" r="9.4" fill="#111111"/>
<circle cx="286.8" cy="2577.4" r="9.4" fill="#111111"/>
<circle cx="286.8" cy="2645.6" r="9.4" fill="#111111"/>
<circle cx="286.8" cy="2715.1" r="9.4" fill="#111111"/>
<circle cx="286.8" cy="2783.4" r="9.4" fill="#111111"/>
<text transform="translate(311.31 2471.75) scale(0.9360 1)" font-size="51.30" fill="#111111" stroke="#111111" stroke-width="0.70" vector-effect="non-scaling-stroke" filter="url(#hfbfbfb5)">Необхідна витрата визначає</text>
<text transform="translate(313.02 2527.95) scale(0.9204 1)" font-size="51.70" fill="#111111" stroke="#111111" stroke-width="0.70" vector-effect="non-scaling-stroke" filter="url(#hfbfbfb5)">швидкість насоса</text>
<text transform="translate(311.28 2595.75) scale(0.9418 1)" font-size="51.30" fill="#111111" stroke="#111111" stroke-width="0.70" vector-effect="non-scaling-stroke" filter="url(#hfbfbfb5)">Розрахунковий тиск нагнітання</text>
<text transform="translate(311.32 2663.95) scale(0.9330 1)" font-size="51.30" fill="#111111" stroke="#111111" stroke-width="0.70" vector-effect="non-scaling-stroke" filter="url(#hfbfbfb5)">Необхідна потужність електродвигуна</text>
<text transform="translate(314.19 2732.15) scale(0.9339 1)" font-size="51.30" fill="#111111" stroke="#111111" stroke-width="0.70" vector-effect="non-scaling-stroke" filter="url(#hfbfbfb5)">Температура рідини</text>
<text transform="translate(311.33 2800.45) scale(0.8969 1)" font-size="53.19" fill="#111111" stroke="#111111" stroke-width="0.70" vector-effect="non-scaling-stroke" filter="url(#hfbfbfb5)">Максимальна рекомендована</text>
<text transform="translate(313.01 2855.95) scale(0.8940 1)" font-size="53.40" fill="#111111" stroke="#111111" stroke-width="0.70" vector-effect="non-scaling-stroke" filter="url(#hfbfbfb5)">швидкість насоса</text>
<line x1="278.70" y1="2883.00" x2="1142.00" y2="2883.00" stroke="#141c48" stroke-width="2.6"/>
<text transform="translate(273.34 2934.45) scale(0.9179 1)" font-size="53.19" fill="#111111" stroke="#111111" stroke-width="0.70" vector-effect="non-scaling-stroke" filter="url(#hfbfbfb5)">Зазначені робочі дані стосуються води</text>
<text transform="translate(272.85 3004.95) scale(0.9524 1)" font-size="51.29" fill="#111111" stroke="#111111" stroke-width="0.70" vector-effect="non-scaling-stroke" filter="url(#hfbfbfb5)">або рідин з подібними властивостями</text>
</svg>
</body></html>
